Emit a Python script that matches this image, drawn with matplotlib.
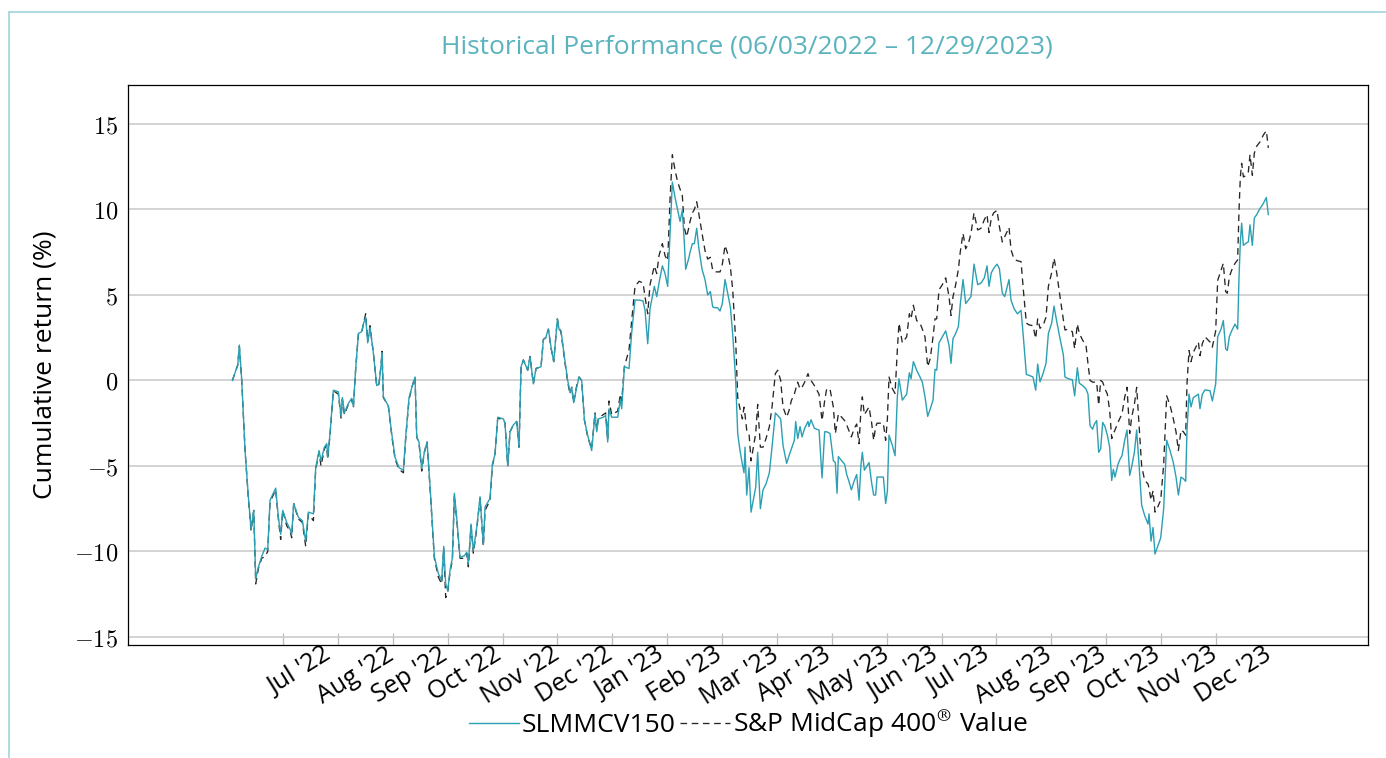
"""
historical performance chart: SLMMCV150 vs S&P MidCap 400 Value
"""
import matplotlib
matplotlib.use("Agg")
from matplotlib import pyplot as plt
from matplotlib.lines import Line2D
from matplotlib.ticker import FixedLocator, FuncFormatter

# elapsed months on the x axis (0 = 1 Jul 2022, 17 = 1 Dec 2023)
months = [
    -0.923, -0.826, -0.796, -0.753, -0.692, -0.632, -0.583, -0.534, -0.498, -0.449,
    -0.389, -0.328, -0.279, -0.237, -0.134, -0.085, -0.043, -0.006, 0.067, 0.128,
    0.158, 0.194, 0.279, 0.352, 0.413, 0.462, 0.553, 0.595, 0.656, 0.692,
    0.753, 0.796, 0.814, 0.856, 0.917, 1.008, 1.057, 1.081, 1.118, 1.190,
    1.251, 1.282, 1.324, 1.373, 1.433, 1.464, 1.506, 1.543, 1.585, 1.646,
    1.707, 1.749, 1.786, 1.804, 1.828, 1.919, 1.980, 2.041, 2.114, 2.193,
    2.235, 2.296, 2.357, 2.405, 2.436, 2.478, 2.527, 2.575, 2.624, 2.679,
    2.757, 2.830, 2.891, 2.928, 2.964, 3.001, 3.043, 3.086, 3.122, 3.164,
    3.225, 3.304, 3.347, 3.377, 3.426, 3.468, 3.529, 3.590, 3.650, 3.681,
    3.772, 3.814, 3.863, 3.912, 4.015, 4.045, 4.094, 4.136, 4.197, 4.258,
    4.300, 4.337, 4.379, 4.458, 4.501, 4.561, 4.610, 4.701, 4.744, 4.786,
    4.835, 4.883, 4.932, 4.999, 5.029, 5.066, 5.126, 5.187, 5.230, 5.260,
    5.296, 5.351, 5.394, 5.442, 5.491, 5.551, 5.624, 5.685, 5.716, 5.746,
    5.837, 5.879, 5.916, 5.940, 5.989, 6.098, 6.147, 6.171, 6.220, 6.305,
    6.353, 6.414, 6.487, 6.560,
    6.596, 6.645, 6.687, 6.766, 6.809, 6.851, 6.912, 6.961, 7.009, 7.052,
    7.094, 7.143, 7.191, 7.234, 7.276, 7.313, 7.337, 7.355, 7.398, 7.416,
    7.459, 7.495, 7.538, 7.574, 7.635, 7.689, 7.738, 7.787, 7.829, 7.872,
    7.920, 7.963, 8.005, 8.054, 8.103, 8.151, 8.194, 8.248, 8.285, 8.327,
    8.370, 8.400, 8.418, 8.449, 8.491, 8.528, 8.570, 8.613, 8.649, 8.698,
    8.746, 8.801, 8.862, 8.910, 8.971, 9.014, 9.068, 9.111, 9.177, 9.220,
    9.263, 9.317, 9.342, 9.378, 9.421, 9.457, 9.505, 9.566, 9.584, 9.621,
    9.682, 9.767, 9.822, 9.870, 9.906, 9.967, 10.028, 10.064, 10.095, 10.119,
    10.180, 10.234, 10.271, 10.307, 10.356, 10.410, 10.453,
    10.496, 10.532, 10.556, 10.593, 10.678, 10.726, 10.763, 10.799, 10.824, 10.939,
    10.981, 11.012, 11.042, 11.103, 11.152, 11.194, 11.224, 11.285, 11.364, 11.413,
    11.443, 11.486, 11.546, 11.607, 11.650, 11.698, 11.747, 11.795, 11.844, 11.880,
    11.911, 11.953, 12.014, 12.075, 12.136, 12.172, 12.208, 12.257, 12.306, 12.342,
    12.391, 12.439, 12.488, 12.536, 12.591, 12.658, 12.719, 12.779, 12.828, 12.864,
    12.907, 12.949, 13.010, 13.053, 13.107, 13.150, 13.229, 13.265, 13.320, 13.381,
    13.448, 13.490, 13.545, 13.594, 13.666, 13.715, 13.751, 13.794, 13.854, 13.903,
    13.946, 14.006, 14.049, 14.098, 14.158, 14.219, 14.249,
    14.310, 14.383, 14.425, 14.474, 14.510, 14.571, 14.632, 14.668, 14.705, 14.753,
    14.784, 14.826, 14.863, 14.899, 14.936, 14.978, 15.021, 15.063, 15.100, 15.130,
    15.160, 15.215, 15.252, 15.288, 15.337, 15.379, 15.428, 15.464, 15.513, 15.555,
    15.598, 15.646, 15.701, 15.762, 15.780, 15.816, 15.853, 15.889, 15.938, 15.993,
    16.047, 16.102, 16.163, 16.223, 16.272, 16.315, 16.363, 16.406, 16.448, 16.472,
    16.509, 16.545, 16.588, 16.679, 16.709, 16.751, 16.800, 16.891, 16.934, 16.995,
    17.031, 17.092, 17.134, 17.177, 17.207, 17.243, 17.286, 17.347, 17.395, 17.420,
    17.444, 17.468, 17.499, 17.559, 17.590, 17.620, 17.663, 17.699, 17.742, 17.802,
    17.863, 17.918, 17.954,
]

# cumulative return (%) of SLMMCV150
fund = [
    0.0, 0.9, 2.07, 0.0, -4.1, -6.8, -8.7, -7.6, -11.6, -10.9,
    -10.3, -9.8, -9.9, -7.0, -6.3, -8.0, -9.0, -7.6, -8.3, -8.7,
    -9.0, -7.2, -8.0, -8.2, -9.4, -7.7, -7.8, -5.1, -4.1, -4.7,
    -3.9, -3.7, -4.5, -3.1, -0.57, -0.66, -2.1, -1.0, -1.9, -1.35,
    -1.05, -1.5, 0.7, 2.75, 2.85, 3.3, 3.7, 2.2, 3.1, 1.6,
    -0.3, -0.2, 0.9, 1.6, -0.95, -1.5, -3.1, -4.5, -5.1, -5.25,
    -3.3, -1.0, -0.3, 0.2, -3.3, -3.6, -5.15, -4.2, -3.6, -6.2,
    -10.3, -11.3, -11.7, -9.7, -11.9, -12.3, -11.1, -10.35, -6.6, -8.0,
    -10.35, -10.25, -10.05, -10.7, -8.4, -9.96, -8.6, -6.8, -9.6, -7.4,
    -6.9, -4.9, -4.3, -2.15, -2.25, -2.5, -5.0, -3.0, -2.6, -2.4,
    -3.9, 0.8, 1.2, 0.6, 1.4, -0.2, 0.7, 0.8, 2.4, 2.5,
    3.0, 1.95, 1.1, 3.6, 3.0, 2.9, 1.4, 0.0, -0.7, -0.4,
    -1.3, -0.4, 0.2, 0.0, -2.3, -3.2, -4.1, -1.95, -3.0, -2.25,
    -2.15, -2.05, -3.6, -1.66, -2.15, -2.15, -1.1, -1.66, 0.8, 0.7,
    2.8, 4.7, 4.7, 4.65,
    4.1, 2.15, 4.2, 5.5, 4.9, 5.7, 6.7, 6.25, 5.5, 8.6,
    11.6, 10.7, 9.96, 9.3, 9.96, 8.0, 6.5, 6.7, 7.2, 7.5,
    8.0, 8.0, 8.9, 7.8, 6.5, 5.9, 5.0, 5.2, 4.3, 4.25,
    4.25, 4.06, 4.5, 5.9, 5.1, 4.3, 2.7, 0.0, -3.1, -4.1,
    -4.9, -5.4, -3.9, -6.7, -5.1, -7.7, -7.0, -6.25, -4.2, -7.5,
    -6.4, -6.05, -5.4, -3.9, -1.9, -2.05, -2.25, -3.8, -4.85, -4.4,
    -4.0, -3.5, -2.4, -3.4, -2.7, -3.3, -2.8, -2.4, -2.7, -2.3,
    -2.8, -2.9, -5.7, -3.0, -3.0, -3.1, -4.7, -4.8, -6.6, -4.45,
    -4.7, -4.9, -5.5, -5.85, -6.4, -5.85, -5.5,
    -7.0, -4.9, -4.2, -5.25, -4.8, -6.0, -6.7, -6.7, -5.65, -5.65,
    -7.2, -6.5, -3.2, -3.8, -4.4, -0.96, 0.1, -1.15, -0.8, 0.45,
    0.1, 1.1, 0.6, 0.2, -0.1, -0.96, -2.1, -1.65, -1.15, 0.65,
    0.6, 2.2, 2.55, 2.9, 2.05, 1.0, 2.45, 2.75, 3.15, 4.5,
    5.9, 4.5, 4.7, 4.9, 6.8, 5.6, 5.7, 6.0, 6.7, 5.5,
    6.3, 6.55, 6.8, 6.55, 5.1, 4.9, 5.9, 4.7, 4.2, 3.9,
    4.1, 2.55, 0.35, 0.3, 0.2, -0.57, 0.96, -0.08, 0.45, 1.0,
    2.75, 3.35, 4.35, 3.45, 2.45, 1.5, 0.2,
    0.1, 0.04, -0.9, 0.74, -0.16, -0.3, -0.5, -0.8, -2.65, -2.85,
    -2.55, -2.35, -4.2, -4.0, -2.45, -2.7, -3.2, -3.9, -5.85, -5.2,
    -5.65, -4.9, -4.6, -4.4, -3.5, -2.9, -5.55, -5.05, -4.2, -2.9,
    -4.9, -7.3, -7.9, -8.4, -7.8, -9.4, -8.6, -10.15, -9.7, -9.2,
    -7.5, -3.5, -4.1, -4.8, -5.65, -6.7, -5.65, -5.75, -5.9, -2.9,
    -0.8, -1.55, -1.0, -0.8, -1.65, -0.8, -0.55, -0.6, -1.2, -0.2,
    2.55, 3.0, 3.5, 1.85, 1.75, 2.55, 2.9, 3.3, 3.0, 6.05,
    8.1, 9.2, 7.9, 8.05, 8.1, 9.1, 7.9, 9.5, 9.7, 10.05,
    10.35, 10.7, 9.7,
]

# cumulative return (%) of the S&P MidCap 400 Value index
index = [
    0.0, 0.9, 2.0, 0.0, -4.1, -6.9, -8.8, -7.6, -11.9, -11.0,
    -10.4, -10.3, -10.0, -7.1, -6.4, -8.1, -9.3, -7.6, -8.5, -8.8,
    -9.2, -7.2, -8.1, -8.3, -9.7, -7.8, -8.2, -5.2, -4.2, -5.0,
    -4.0, -3.8, -4.6, -3.2, -0.6, -0.8, -2.2, -1.1, -2.0, -1.4,
    -1.1, -1.6, 0.7, 2.7, 2.8, 3.3, 3.9, 2.3, 3.2, 1.6,
    -0.35, -0.2, 0.9, 1.7, -1.0, -1.5, -3.2, -4.6, -5.2, -5.4,
    -3.4, -1.1, -0.3, 0.2, -3.3, -3.7, -5.3, -4.2, -3.6, -6.3,
    -10.4, -11.5, -11.9, -9.8, -12.7, -12.4, -11.2, -10.5, -6.7, -8.1,
    -10.4, -10.4, -10.1, -10.9, -8.5, -10.1, -8.7, -6.9, -9.7, -7.6,
    -7.0, -5.0, -4.3, -2.2, -2.3, -2.5, -5.0, -3.0, -2.6, -2.4,
    -3.9, 0.8, 1.2, 0.6, 1.4, -0.2, 0.7, 0.8, 2.4, 2.5,
    3.0, 1.9, 1.1, 3.6, 3.1, 2.8, 1.3, -0.1, -0.8, -0.4,
    -1.3, -0.3, 0.2, 0.0, -2.3, -3.3, -4.0, -1.9, -2.9, -2.2,
    -2.0, -1.9, -3.5, -1.2, -2.0, -1.8, -0.8, -1.2, 0.8, 1.8,
    3.5, 5.5, 5.8, 5.7,
    4.9, 3.9, 5.6, 6.7, 6.25, 7.3, 8.0, 7.3, 7.0, 10.6,
    13.2, 12.3, 11.6, 11.2, 10.8, 8.9, 8.6, 8.4, 9.0, 9.3,
    9.8, 10.0, 10.45, 9.8, 8.6, 7.6, 7.1, 7.2, 6.45, 6.35,
    6.35, 6.35, 6.8, 7.9, 7.4, 6.65, 5.3, 2.35, -1.0, -1.66,
    -2.25, -1.56, -2.0, -2.9, -3.1, -4.7, -3.9, -3.1, -1.4, -3.9,
    -3.9, -3.4, -2.7, -1.56, 0.4, 0.6, 0.0, -1.56, -2.15, -1.76,
    -1.17, -0.8, -0.5, -0.1, -0.5, -0.4, -0.1, 0.4, 0.2, 0.0,
    -0.3, -0.8, -2.35, -1.17, -0.5, -0.5, -1.56, -3.1, -2.5, -1.95,
    -2.15, -2.35, -2.6, -2.9, -3.3, -2.8, -2.55,
    -3.7, -1.65, -0.96, -2.0, -1.55, -2.5, -3.5, -2.7, -2.5, -2.5,
    -3.5, -2.3, 0.2, -0.47, -0.76, 1.8, 3.35, 2.2, 2.55, 3.9,
    3.6, 4.4, 3.5, 3.35, 3.0, 2.55, 0.8, 1.3, 2.55, 3.6,
    3.6, 5.3, 5.6, 6.0, 4.9, 3.8, 4.9, 5.6, 6.5, 7.55,
    8.6, 7.7, 8.0, 8.6, 9.8, 8.8, 8.9, 9.4, 9.7, 8.65,
    9.5, 9.8, 9.95, 9.0, 8.1, 8.4, 8.95, 7.65, 7.1, 7.0,
    6.95, 5.3, 3.35, 3.25, 3.2, 2.45, 3.6, 3.05, 3.25, 3.7,
    5.5, 6.3, 7.15, 6.3, 4.9, 3.55, 2.95,
    3.0, 2.85, 1.85, 3.3, 2.75, 2.35, 2.05, 0.98, 0.0, -0.1,
    -0.1, -0.1, -1.45, 0.0, -0.1, -0.5, -0.8, -1.75, -3.4, -3.1,
    -2.9, -2.45, -2.2, -1.95, -0.98, -0.4, -3.1, -2.15, -1.4, -0.4,
    -2.55, -5.0, -5.85, -6.05, -6.3, -7.0, -6.45, -7.7, -7.4, -7.0,
    -4.9, -0.9, -1.45, -2.25, -3.0, -4.1, -2.9, -3.0, -3.2, -0.2,
    1.75, 1.1, 1.65, 2.25, 1.45, 2.15, 2.55, 2.25, 1.95, 2.9,
    5.85, 6.45, 6.85, 5.2, 5.1, 6.05, 6.45, 6.85, 7.05, 9.95,
    11.9, 12.7, 11.9, 12.0, 12.2, 13.2, 12.0, 13.3, 13.7, 13.95,
    14.35, 14.6, 13.6,
]

month_labels = [
    "Jul '22", "Aug '22", "Sep '22", "Oct '22", "Nov '22", "Dec '22",
    "Jan '23", "Feb '23", "Mar '23", "Apr '23", "May '23", "Jun '23",
    "Jul '23", "Aug '23", "Sep '23", "Oct '23", "Nov '23", "Dec '23",
]
y_ticks = [-15, -10, -5, 0, 5, 10, 15]

TEAL = "#2b9fb3"
TITLE_TEAL = "#5ab3bd"
FRAME_TEAL = "#a8d8df"
SANS = "Open Sans"

plt.rcParams["mathtext.fontset"] = "cm"

fig = plt.figure(figsize=(13.86, 7.58), dpi=100)
ax = fig.add_axes([0.0924, 0.1491, 0.8946, 0.7388])

# the light frame round the whole panel
fig.add_artist(Line2D([0.0062, 0.0062], [0.0, 0.984], transform=fig.transFigure,
                      color=FRAME_TEAL, lw=1.3))
fig.add_artist(Line2D([0.0062, 1.0], [0.984, 0.984], transform=fig.transFigure,
                      color=FRAME_TEAL, lw=1.3))

ax.plot(months, fund, color=TEAL, lw=1.0, label="SLMMCV150", zorder=3)
ax.plot(months, index, color="#262626", lw=0.95, linestyle=(0, (5, 3.5)),
        label="S&P MidCap 400$^{\\circledR}$ Value", zorder=2)

ax.set_xlim(-2.824, 19.77)
ax.set_ylim(-15.47, 17.28)

# y axis: serif numbers, horizontal grid
ax.yaxis.set_major_locator(FixedLocator(y_ticks))
ax.yaxis.set_major_formatter(FuncFormatter(lambda v, _: r"$%d$" % v))
ax.tick_params(axis="y", length=0, pad=7, labelsize=17.5)
ax.grid(axis="y", color="#c8c8c8", lw=1.1)
ax.set_axisbelow(True)

# x axis: month boundaries as grey inward ticks, labels set a bit to the right
ax.xaxis.set_major_locator(FixedLocator(range(len(month_labels))))
ax.xaxis.set_major_formatter(FuncFormatter(lambda v, _: ""))
ax.tick_params(axis="x", which="major", direction="in", length=9,
               width=0.9, color="#bdbdbd")
ax.xaxis.set_minor_locator(FixedLocator([i + 0.32 for i in range(len(month_labels))]))
ax.set_xticklabels(month_labels, minor=True, rotation=32, ha="center",
                   fontsize=18, family=SANS)
ax.tick_params(axis="x", which="minor", length=0, pad=-2)

for spine in ax.spines.values():
    spine.set_linewidth(0.9)
    spine.set_color("black")

ax.set_ylabel("Cumulative return (%)", family=SANS, fontsize=19, labelpad=12)

fig.text(0.539, 0.938, "Historical Performance (06/03/2022 \u2013 12/29/2023)",
         ha="center", va="center", color=TITLE_TEAL, family=SANS, fontsize=19)

leg = fig.legend(loc="center", bbox_to_anchor=(0.54, 0.045), ncol=2, frameon=False,
                 handlelength=1.9, handletextpad=0.1, columnspacing=0.15,
                 prop={"family": SANS, "size": 19})

fig.savefig("out.png", dpi=100)
